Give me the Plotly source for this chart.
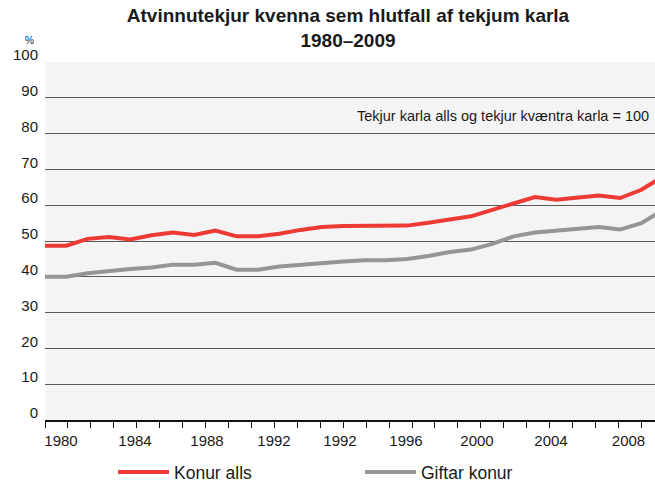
import plotly.graph_objects as go

# ---- data ----
YEARS = list(range(1980, 2010))
KONUR_ALLS = [48.7, 48.7, 50.6, 51.1, 50.4, 51.6, 52.4, 51.7, 52.9, 51.3,
              51.3, 52.0, 53.1, 53.9, 54.2, 54.2, 54.2, 54.3, 55.1, 55.9,
              56.9, 58.7, 60.6, 62.3, 61.5, 62.1, 62.7, 62.0, 64.3, 68.0]
GIFTAR_KONUR = [40.0, 40.0, 41.0, 41.7, 42.2, 42.6, 43.4, 43.4, 43.9, 42.0,
                42.0, 42.9, 43.4, 43.9, 44.3, 44.6, 44.6, 45.0, 45.8, 46.9,
                47.6, 49.2, 51.3, 52.4, 52.9, 53.4, 53.9, 53.2, 55.0, 58.6]
SERIES_NAMES = ["Konur alls", "Giftar konur"]
XTICK_LABELS = ["1980", "1984", "1988", "1992", "1992", "1996", "2000", "2004", "2008"]
YTICK_VALUES = [0, 10, 20, 30, 40, 50, 60, 70, 80, 90, 100]
TITLE = "Atvinnutekjur kvenna sem hlutfall af tekjum karla<br>1980\u20132009"
NOTE = "Tekjur karla alls og tekjur kv\u00e6ntra karla = 100"

# ---- layout geometry ----
W, H = 655, 484
ML, MR, MT, MB = 45, 0, 62, 64
PX_PER_YEAR = 21.3
X0 = 1980
X1 = X0 + (W - ML - MR) / PX_PER_YEAR
label_px = [61, 135, 207, 274, 340, 406, 477, 551, 628.5]
label_pos = [X0 + (p - ML) / PX_PER_YEAR for p in label_px]

FONT = "Liberation Sans, Arial, Helvetica, sans-serif"
RED = "#ee3a34"
GRAY = "#939598"

fig = go.Figure()
fig.add_trace(go.Scatter(x=YEARS, y=KONUR_ALLS, name=SERIES_NAMES[0], mode="lines",
                         line=dict(color=RED, width=4)))
fig.add_trace(go.Scatter(x=YEARS, y=GIFTAR_KONUR, name=SERIES_NAMES[1], mode="lines",
                         line=dict(color=GRAY, width=4)))

plot_h = H - MT - MB

def py(ypx):
    return (H - MB - ypx) / plot_h

def px(xpx):
    return (xpx - ML) / (W - ML - MR)

fig.update_layout(
    width=W, height=H,
    margin=dict(l=ML, r=MR, t=MT, b=MB, autoexpand=False),
    paper_bgcolor="white",
    plot_bgcolor="#f4f4f4",
    font=dict(family=FONT, color="#1a1a1a"),
    title=dict(text="<b>" + TITLE + "</b>", x=348 / W, xanchor="center",
               y=1 - 22 / H, yanchor="top", yref="container",
               font=dict(size=19, family=FONT, color="#1a1a1a")),
    showlegend=True,
    legend=dict(orientation="h", x=px(113), y=py(472), xanchor="left", yanchor="middle",
                font=dict(size=17.5, family=FONT, color="#1a1a1a"),
                itemwidth=51, entrywidth=181, bgcolor="rgba(0,0,0,0)"),
    xaxis=dict(range=[X0, X1], tickmode="array", tickvals=label_pos, ticktext=XTICK_LABELS,
               ticks="", showgrid=False, zeroline=False,
               showline=True, linecolor="#111", linewidth=1.5,
               tickfont=dict(size=15, family=FONT, color="#1a1a1a"),
               ticklabelstandoff=6,
               minor=dict(tickmode="linear", tick0=X0, dtick=28 / 26, ticks="outside",
                          ticklen=6, tickcolor="#111", tickwidth=1, showgrid=False)),
    yaxis=dict(range=[0, 100], tickmode="array", tickvals=YTICK_VALUES,
               showgrid=True, gridcolor="#5a5a5a", gridwidth=1.3,
               zeroline=False, showline=False, ticks="",
               tickfont=dict(size=15, family=FONT, color="#1a1a1a"),
               ticklabelshift=-7, ticklabelstandoff=6),
)

fig.add_annotation(text="%", xref="paper", yref="paper", x=px(29), y=py(41),
                   xanchor="center", yanchor="middle", showarrow=False,
                   font=dict(size=10, family=FONT, color="#1a1a1a"))
fig.add_annotation(text=NOTE, xref="paper", yref="paper", x=px(651), y=py(116),
                   xanchor="right", yanchor="middle", showarrow=False,
                   font=dict(size=14.5, family=FONT, color="#1a1a1a"))

fig.write_html("out.html", config={"displayModeBar": False},
               post_script="document.body.style.margin='0';document.body.style.overflow='hidden';")
